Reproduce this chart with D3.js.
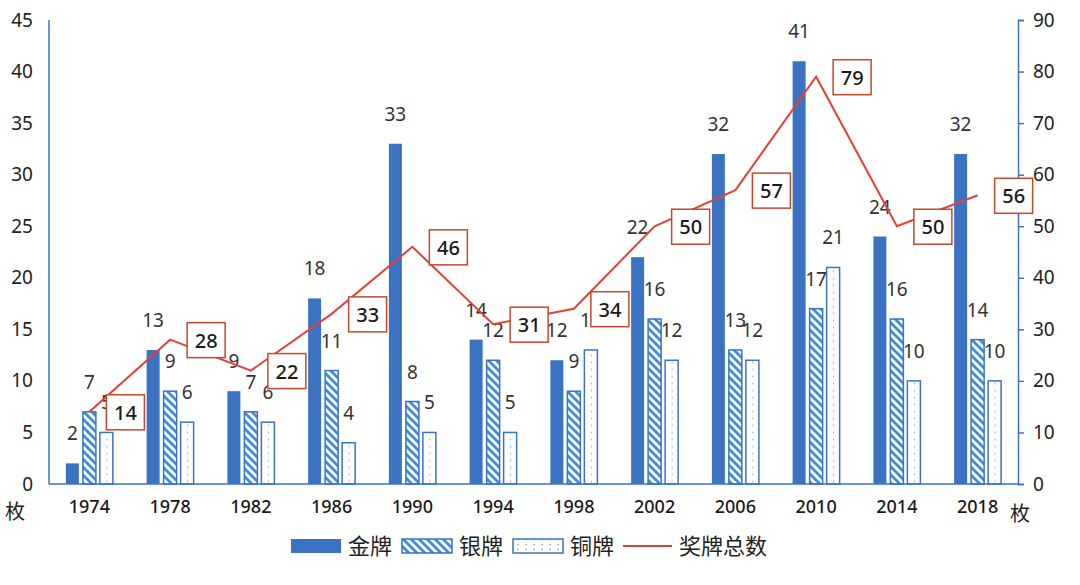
<!DOCTYPE html>
<html><head><meta charset="utf-8">
<script src="https://cdn.jsdelivr.net/npm/d3@7"></script>
<style>body{margin:0;background:#fff}</style>
</head><body>
<svg id="c" width="1080" height="585"></svg>
<script>
const years = ["1974","1978","1982","1986","1990","1994","1998","2002","2006","2010","2014","2018"];
const gold = [2,13,9,18,33,14,12,22,32,41,24,32];
const silver = [7,9,7,11,8,12,9,16,13,17,16,14];
const bronze = [5,6,6,4,5,5,13,12,12,21,10,10];
const total = [14,28,22,33,46,31,34,50,57,79,50,56];
const leftTicks = [0,5,10,15,20,25,30,35,40,45];
const rightTicks = [0,10,20,30,40,50,60,70,80,90];
const seriesNames = ["金牌","银牌","铜牌","奖牌总数"];

const svg = d3.select("#c");
const L = 49, R = 1018, T = 20, B = 484;
const font = "'Noto Sans','Noto Sans CJK SC',sans-serif";
const blue = "#3b73c2";

const x = d3.scaleBand().domain(years).range([L, R]);
const sub = d3.scaleBand().domain(["g","s","b"]).range([-25.5, 25.5]);
const yL = d3.scaleLinear().domain([0,45]).range([B, T]);
const yR = d3.scaleLinear().domain([0,90]).range([B, T]);
const bw = 13;

const defs = svg.append("defs");
const hatch = defs.append("pattern").attr("id","hatch").attr("patternUnits","userSpaceOnUse")
  .attr("width",8).attr("height",8);
hatch.append("rect").attr("width",8).attr("height",8).attr("fill","#fff");
hatch.append("path").attr("d","M-2,-2L10,10M-2,6L2,10M6,-2L10,2").attr("stroke","#3b8be0").attr("stroke-width",2.8);
const dots = defs.append("pattern").attr("id","dots").attr("patternUnits","userSpaceOnUse")
  .attr("x", L + x.bandwidth()/2 + sub("b") + sub.bandwidth()/2).attr("y",2)
  .attr("width",x.bandwidth()).attr("height",7);
dots.append("rect").attr("width",x.bandwidth()).attr("height",7).attr("fill","#fff");
dots.append("circle").attr("cx",0).attr("cy",3.5).attr("r",0.9).attr("fill","#7b93c8");
const dots2 = defs.append("pattern").attr("id","dots2").attr("patternUnits","userSpaceOnUse")
  .attr("x",2).attr("y",2).attr("width",8).attr("height",5);
dots2.append("rect").attr("width",8).attr("height",5).attr("fill","#fff");
dots2.append("circle").attr("cx",4).attr("cy",2.5).attr("r",0.8).attr("fill","#7b93c8");

const series = [
  {k:"g", vals: gold, fill: blue, stroke: "none"},
  {k:"s", vals: silver, fill: "url(#hatch)", stroke: blue},
  {k:"b", vals: bronze, fill: "url(#dots)", stroke: blue}
];

const cx = (i,k) => x(years[i]) + x.bandwidth()/2 + sub(k) + sub.bandwidth()/2;

series.forEach(s => {
  svg.append("g").selectAll("rect").data(s.vals).join("rect")
    .attr("x",(d,i)=>cx(i,s.k)-bw/2).attr("y",d=>yL(d))
    .attr("width",bw).attr("height",d=>B-yL(d))
    .attr("fill",s.fill).attr("stroke",s.stroke).attr("stroke-width",1.5);
});

svg.append("line").attr("x1",L).attr("x2",L).attr("y1",T).attr("y2",B).attr("stroke",blue).attr("stroke-width",1.5);
svg.append("line").attr("x1",L).attr("x2",R).attr("y1",B).attr("y2",B).attr("stroke",blue).attr("stroke-width",1.5);
const ar = svg.append("g").attr("transform",`translate(${R},0)`)
  .call(d3.axisRight(yR).tickValues(rightTicks).tickSize(6).tickPadding(9));
ar.select(".domain").attr("stroke",blue).attr("stroke-width",1.5);
ar.selectAll(".tick line").attr("stroke",blue).attr("stroke-width",1.5);
ar.selectAll("text").attr("font-family",font).attr("font-size",19).attr("fill","#222");

const al = svg.append("g").attr("transform",`translate(${L},0)`)
  .call(d3.axisLeft(yL).tickValues(leftTicks).tickSize(0).tickPadding(16));
al.select(".domain").remove();
al.selectAll("text").attr("font-family",font).attr("font-size",19).attr("fill","#222");

const ax = svg.append("g").attr("transform",`translate(0,${B})`)
  .call(d3.axisBottom(x).tickSize(0).tickPadding(16));
ax.select(".domain").remove();
ax.selectAll("text").attr("font-family",font).attr("font-size",18).attr("fill","#1a1a1a").attr("font-weight",500);

svg.append("text").attr("x",15).attr("y",519).attr("text-anchor","middle").attr("font-family",font).attr("font-size",20).attr("fill","#222").text("枚");
svg.append("text").attr("x",1020).attr("y",521).attr("text-anchor","middle").attr("font-family",font).attr("font-size",20).attr("fill","#222").text("枚");

series.forEach(s => {
  svg.append("g").selectAll("text").data(s.vals).join("text")
    .attr("x",(d,i)=>cx(i,s.k)).attr("y",d=>yL(d)-23)
    .attr("text-anchor","middle").attr("font-family",font).attr("font-size",19).attr("fill","#333")
    .text(d=>d);
});

const lx = i => x(years[i]) + x.bandwidth()/2;
svg.append("path").datum(total)
  .attr("d", d3.line().x((d,i)=>lx(i)).y(d=>yR(d)))
  .attr("fill","none").attr("stroke","#e2413a").attr("stroke-width",2);

const tg = svg.append("g").selectAll("g").data(total).join("g")
  .attr("transform",(d,i)=>`translate(${lx(i)+36},${yR(d)})`);
tg.append("rect").attr("x",-19).attr("y",-17).attr("width",38).attr("height",35)
  .attr("fill","#fff").attr("stroke","#c9462c").attr("stroke-width",1.5);
tg.append("text").attr("text-anchor","middle").attr("dy","0.35em").attr("y",1)
  .attr("font-family",font).attr("font-size",20).attr("font-weight",500).attr("fill","#1a1a1a").text(d=>d);

const lg = svg.append("g");
const ly = 546;
const items = [
  {x:291, fill: blue, stroke:"none"},
  {x:402, fill:"url(#hatch)", stroke: blue},
  {x:513, fill:"url(#dots2)", stroke: blue}
];
items.forEach((it,j) => {
  lg.append("rect").attr("x",it.x).attr("y",ly-7).attr("width",50).attr("height",14)
    .attr("fill",it.fill).attr("stroke",it.stroke).attr("stroke-width",1.5);
  lg.append("text").attr("x",it.x+57).attr("y",ly+8).attr("font-family",font).attr("font-size",22).attr("fill","#222").text(seriesNames[j]);
});
lg.append("line").attr("x1",623).attr("x2",672).attr("y1",ly).attr("y2",ly).attr("stroke","#d8402e").attr("stroke-width",2);
lg.append("text").attr("x",679).attr("y",ly+8).attr("font-family",font).attr("font-size",22).attr("fill","#222").text(seriesNames[3]);
</script>
</body></html>
